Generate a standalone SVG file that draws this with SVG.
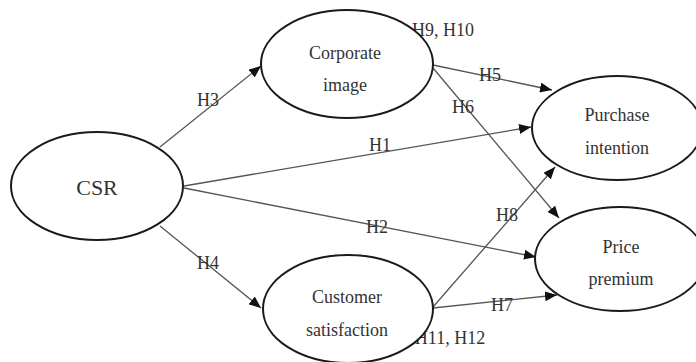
<svg xmlns="http://www.w3.org/2000/svg" width="696" height="362" viewBox="0 0 696 362">
  <style>
    .node ellipse { fill: #ffffff; stroke: #1a1a1a; stroke-width: 2; }
    .node text { font-size: 18px; fill: #333333; text-anchor: middle; }
    .edge { stroke: #555555; stroke-width: 1.3; fill: none; marker-end: url(#arrow); }
    .lbl { font-size: 18px; fill: #333333; text-anchor: middle; }
  </style>
  <defs>
    <marker id="arrow" viewBox="0 0 12 10" refX="12" refY="5" markerWidth="12" markerHeight="10" markerUnits="userSpaceOnUse" orient="auto">
      <path d="M0,0 L12,5 L0,10 Z" fill="#111111"/>
    </marker>
  </defs>
  <rect width="696" height="362" fill="#ffffff"/>

  <g id="connectors" font-family="'Liberation Serif', 'DejaVu Serif', serif">
    <line class="edge" x1="160" y1="147" x2="261" y2="66"/>
    <line class="edge" x1="160" y1="226" x2="261" y2="308"/>
    <line class="edge" x1="184" y1="186" x2="531" y2="127"/>
    <line class="edge" x1="184" y1="188" x2="536" y2="257"/>
    <line class="edge" x1="433" y1="65" x2="552" y2="90"/>
    <line class="edge" x1="433" y1="68" x2="559" y2="218"/>
    <line class="edge" x1="433" y1="308" x2="557" y2="295"/>
    <line class="edge" x1="433" y1="307" x2="555" y2="167"/>
    <text class="lbl" x="208" y="106">H3</text>
    <text class="lbl" x="208" y="269">H4</text>
    <text class="lbl" x="380" y="151">H1</text>
    <text class="lbl" x="377" y="233">H2</text>
    <text class="lbl" x="490" y="81">H5</text>
    <text class="lbl" x="463" y="113">H6</text>
    <text class="lbl" x="502" y="311">H7</text>
    <text class="lbl" x="507" y="221">H8</text>
    <text class="lbl" x="443" y="36">H9, H10</text>
    <text class="lbl" x="450" y="344">H11, H12</text>
  </g>

  <g font-family="'Liberation Serif', 'DejaVu Serif', serif">
    <g id="csr" class="node">
      <ellipse cx="97" cy="186" rx="86" ry="54"/>
      <text x="97" y="195" style="font-size:22px">CSR</text>
    </g>
    <g id="corporate-image" class="node">
      <ellipse cx="347" cy="64" rx="86" ry="54"/>
      <text x="345" y="59">Corporate</text>
      <text x="345" y="91">image</text>
    </g>
    <g id="customer-satisfaction" class="node">
      <ellipse cx="348" cy="309" rx="85" ry="54"/>
      <text x="347" y="303">Customer</text>
      <text x="347" y="336">satisfaction</text>
    </g>
    <g id="purchase-intention" class="node">
      <ellipse cx="617" cy="128" rx="85" ry="52"/>
      <text x="617" y="121">Purchase</text>
      <text x="617" y="154">intention</text>
    </g>
    <g id="price-premium" class="node">
      <ellipse cx="620" cy="259" rx="85" ry="52"/>
      <text x="621" y="253">Price</text>
      <text x="621" y="285">premium</text>
    </g>
  </g>
</svg>
